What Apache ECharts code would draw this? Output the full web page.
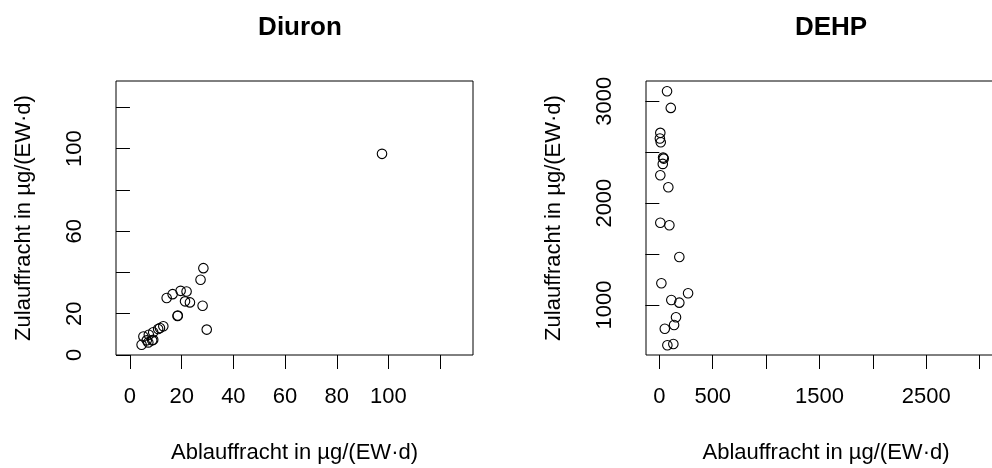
<!DOCTYPE html>
<html>
<head>
<meta charset="utf-8">
<script src="https://cdn.jsdelivr.net/npm/echarts@6/dist/echarts.min.js"></script>
<style>html,body{margin:0;padding:0;background:#fff}#c{width:992px;height:468px}</style>
</head>
<body>
<div id="c"></div>
<script>
// Diuron (x: Ablauffracht, y: Zulauffracht) in µg/(EW·d)
const diuronX = [97.5, 28.4, 27.3, 28.1, 29.7, 19.6, 21.9, 16.5, 14.2, 21.3, 23.2, 18.4, 18.5, 12.9, 10.9, 9.0, 7.3, 5.2, 9.0, 6.5, 7.1, 4.5, 8.6, 11.6];
const diuronY = [97.5, 42.1, 36.5, 23.9, 12.3, 31.1, 30.8, 29.5, 27.6, 26.0, 25.5, 18.9, 19.1, 13.9, 12.6, 11.0, 9.8, 9.0, 7.4, 7.1, 6.1, 5.0, 7.1, 13.1];
// DEHP
const dehpX = [72, 107, 9, 5, 13, 35, 41, 32, 9, 84, 9, 94, 187, 19, 269, 112, 187, 156, 138, 51, 75, 131];
const dehpY = [3099, 2935, 2690, 2634, 2598, 2447, 2437, 2385, 2274, 2156, 1808, 1783, 1471, 1213, 1115, 1049, 1023, 879, 804, 767, 604, 617];

const diuronXTicks = [0, 20, 40, 60, 80, 100, 120];
const diuronXLabels = [0, 20, 40, 60, 80, 100];
const diuronYTicks = [0, 20, 40, 60, 80, 100, 120];
const diuronYLabels = [0, 20, 60, 100];
const dehpXTicks = [0, 500, 1000, 1500, 2000, 2500, 3000];
const dehpXLabels = [0, 500, 1500, 2500];
const dehpYTicks = [1000, 1500, 2000, 2500, 3000];
const dehpYLabels = [1000, 2000, 3000];

const titles = ['Diuron', 'DEHP'];
const xName = 'Ablauffracht in µg/(EW·d)';
const yName = 'Zulauffracht in µg/(EW·d)';

const FONT = 'Liberation Sans, Arial, sans-serif';
const chart = echarts.init(document.getElementById('c'), null, {renderer: 'canvas'});

function xAxis(gi, min, max, ticks, labels) {
  return {
    type: 'value', gridIndex: gi, min: min, max: max,
    name: xName, nameLocation: 'middle', nameGap: 87,
    nameTextStyle: {fontFamily: FONT, fontSize: 22, color: '#000'},
    axisLine: {show: false},
    axisTick: {show: true, inside: false, length: 14, customValues: ticks, lineStyle: {color: '#000', width: 1}},
    axisLabel: {show: true, margin: 31, customValues: labels, formatter: v => String(v), fontFamily: FONT, fontSize: 22, color: '#000'},
    splitLine: {show: false}
  };
}
function yAxis(gi, min, max, ticks, labels) {
  return {
    type: 'value', gridIndex: gi, min: min, max: max,
    name: yName, nameLocation: 'middle', nameGap: 81, nameRotate: 90,
    nameTextStyle: {fontFamily: FONT, fontSize: 22, color: '#000'},
    axisLine: {show: false},
    axisTick: {show: true, inside: false, length: 14, customValues: ticks, lineStyle: {color: '#000', width: 1}},
    axisLabel: {show: true, margin: 30, rotate: 90, customValues: labels, formatter: v => String(v), fontFamily: FONT, fontSize: 22, color: '#000'},
    splitLine: {show: false}
  };
}
function pts(xs, ys) { return xs.map((x, i) => [x, ys[i]]); }

const sym = {
  type: 'scatter', symbol: 'circle', symbolSize: 9.5,
  itemStyle: {color: 'rgba(0,0,0,0)', borderColor: '#000', borderWidth: 1.1, opacity: 1},
  emphasis: {disabled: true}, silent: true
};

chart.setOption({
  animation: false,
  backgroundColor: '#fff',
  title: [
    {text: titles[0], left: 295, top: 10, textAlign: 'center', textStyle: {fontFamily: FONT, fontSize: 26, fontWeight: 'bold', color: '#000'}},
    {text: titles[1], left: 826, top: 10, textAlign: 'center', textStyle: {fontFamily: FONT, fontSize: 26, fontWeight: 'bold', color: '#000'}}
  ],
  grid: [
    {left: 116, top: 81, width: 357, height: 274, show: true, borderColor: '#000', borderWidth: 1, backgroundColor: 'transparent', containLabel: false, outerBoundsMode: 'none'},
    {left: 646, top: 81, width: 360, height: 274, show: true, borderColor: '#000', borderWidth: 1, backgroundColor: 'transparent', containLabel: false, outerBoundsMode: 'none'}
  ],
  xAxis: [
    xAxis(0, -5.4, 132.7, diuronXTicks, diuronXLabels),
    xAxis(1, -125, 3246, dehpXTicks, dehpXLabels)
  ],
  yAxis: [
    yAxis(0, 0, 132.8, diuronYTicks, diuronYLabels),
    yAxis(1, 509, 3199, dehpYTicks, dehpYLabels)
  ],
  series: [
    Object.assign({}, sym, {xAxisIndex: 0, yAxisIndex: 0, data: pts(diuronX, diuronY)}),
    Object.assign({}, sym, {xAxisIndex: 1, yAxisIndex: 1, data: pts(dehpX, dehpY)})
  ]
});
</script>
</body>
</html>
